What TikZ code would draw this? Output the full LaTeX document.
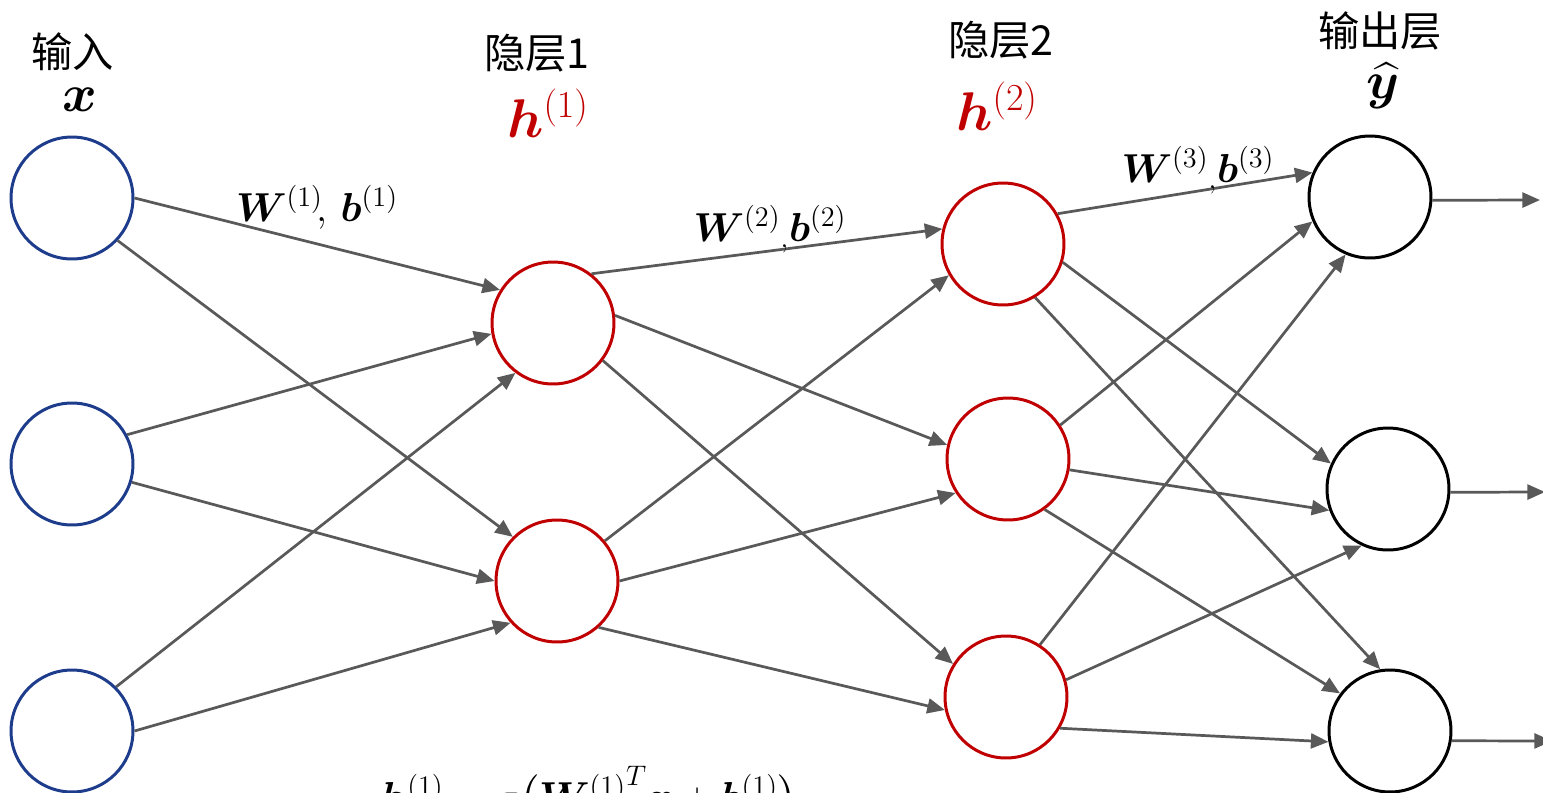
\RequirePackage{fix-cm}
\documentclass[tikz,border=0pt]{standalone}
\usepackage{amsmath}
\usepackage{bm}
\usepackage{fontspec}
\newfontfamily\cjk{Noto Sans CJK SC}
\usetikzlibrary{arrows.meta}

\definecolor{inblue}{RGB}{30,60,140}
\definecolor{hidred}{RGB}{192,0,0}
\definecolor{edgegray}{RGB}{89,89,89}

\tikzset{
  inp/.style={circle,draw=inblue,line width=1.7pt,minimum size=2.44cm,inner sep=0pt},
  hid/.style={circle,draw=hidred,line width=1.7pt,minimum size=2.44cm,inner sep=0pt},
  outp/.style={circle,draw=black,line width=1.7pt,minimum size=2.44cm,inner sep=0pt},
  conn/.style={draw=edgegray,line width=1.55pt,-{Triangle[length=10pt,width=8.5pt]}},
  layername/.style={inner sep=0pt,font=\cjk\fontsize{23.5}{26}\selectfont},
  mathlbl/.style={inner sep=0pt,font=\fontsize{23}{26}\selectfont}
}

\begin{document}
\begin{tikzpicture}[x=0.02cm,y=-0.02cm]
\useasboundingbox (0,0) rectangle (1543,792);

% layer titles
\node[layername] (tin) at (73,52) {输入};
\node[layername] (th1) at (537,53) {隐层1};
\node[layername] (th2) at (1001,40) {隐层2};
\node[layername] (tout) at (1380,31) {输出层};
\node[mathlbl,font=\fontsize{30}{34}\selectfont] (vx) at (80,100) {$\bm{x}$};
\node[mathlbl,font=\fontsize{31}{34}\selectfont,text=hidred] (vh1) at (548,113) {$\bm{h}^{(1)}$};
\node[mathlbl,font=\fontsize{31}{34}\selectfont,text=hidred] (vh2) at (997,106) {$\bm{h}^{(2)}$};
\node[mathlbl,font=\fontsize{30}{34}\selectfont] (vy) at (1383,86) {$\widehat{\bm{y}}$};

% neurons
\node[inp] (x1) at (72,198) {};
\node[inp] (x2) at (72,464) {};
\node[inp] (x3) at (72,731) {};
\node[hid] (a) at (553,323) {};
\node[hid] (b) at (557,581) {};
\node[hid] (c) at (1003,244) {};
\node[hid] (d) at (1008,459) {};
\node[hid] (e) at (1006,697) {};
\node[outp] (o1) at (1370,197) {};
\node[outp] (o2) at (1388,489) {};
\node[outp] (o3) at (1390,731) {};
\coordinate (y1) at (1540,200);
\coordinate (y2) at (1545,492);
\coordinate (y3) at (1552,741);

% input -> hidden 1
\draw[conn] (x1.east) -- (a.148);
\draw[conn] (x1.-43) -- (b.135);
\draw[conn] (x2.28) -- (a.190);
\draw[conn] (x2.-17) -- (b.west);
\draw[conn] (x3.45) -- (a.233);
\draw[conn] (x3.east) -- (b.222);

% hidden 1 -> hidden 2
\draw[conn] (a.52) -- (c.166);
\draw[conn] (a.7) -- (d.167);
\draw[conn] (a.-37) -- (e.148);
\draw[conn] (b.40) -- (c.210);
\draw[conn] (b.east) -- (d.213);
\draw[conn] (b.-48) -- (e.192);

% hidden 2 -> output
\draw[conn] (c.29) -- (o1.157);
\draw[conn] (c.-17) -- (o2.156);
\draw[conn] (c.-59) -- (o3.99);
\draw[conn] (d.33) -- (o1.203);
\draw[conn] (d.-10) -- (o2.200);
\draw[conn] (d.-54) -- (o3.143);
\draw[conn] (e.57) -- (o1.247);
\draw[conn] (e.16) -- (o2.245);
\draw[conn] (e.-30) -- (o3.190);

% outputs
\draw[conn] (o1.-3) -- (y1);
\draw[conn] (o2.-3) -- (y2);
\draw[conn] (o3.-9) -- (y3);

% weight labels
\node[mathlbl] (w1) at (317,207) {$\bm{W}^{(1)}\!,\,\bm{b}^{(1)}$};
\node[mathlbl] (w2) at (770,229) {$\bm{W}^{(2)}{}_{,}\bm{b}^{(2)}$};
\node[mathlbl] (w3) at (1198,170) {$\bm{W}^{(3)}{}_{,}\bm{b}^{(3)}$};

% formula (cut at the bottom edge)
\node[mathlbl,anchor=north west] (eq) at (380,766)
  {$\bm{h}^{(1)}=\sigma\bigl({\bm{W}^{(1)}}^{T}\bm{x}+\bm{b}^{(1)}\bigr)$};
\end{tikzpicture}
\end{document}
